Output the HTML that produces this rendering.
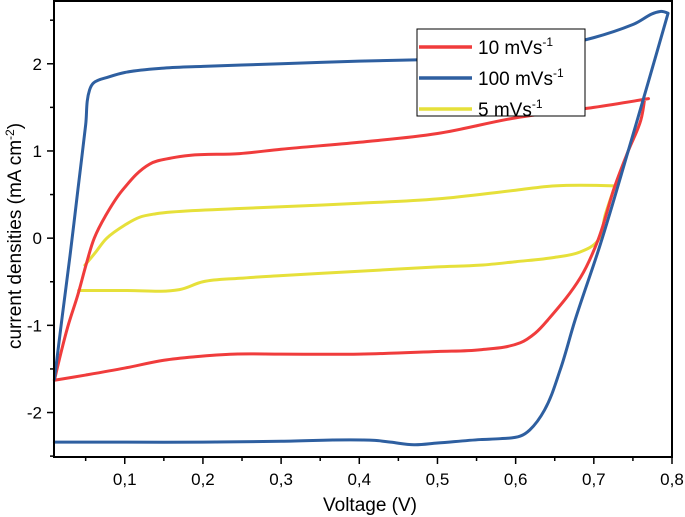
<!DOCTYPE html>
<html><head><meta charset="utf-8"><style>
body{margin:0;background:#fff}
svg{display:block;font-family:"Liberation Sans",Arial,sans-serif}
</style></head><body>
<svg id="chart" width="685" height="517">
<g id="plot"></g>
</svg>
<script>
const xTicks=[0.1,0.2,0.3,0.4,0.5,0.6,0.7,0.8];
const xTickLabels=["0,1","0,2","0,3","0,4","0,5","0,6","0,7","0,8"];
const yTicks=[-2,-1,0,1,2];
const yTickLabels=["-2","-1","0","1","2"];
const seriesNames=["10 mVs","100 mVs","5 mVs"];
const blueV=[0.01,0.02,0.03,0.04,0.05,0.055,0.06,0.08,0.1,0.15,0.2,0.3,0.4,0.5,0.55,0.62,0.7,0.75,0.785,0.795,0.77,0.744,0.708,0.676,0.657,0.637,0.618,0.606,0.58,0.555,0.5,0.47,0.44,0.42,0.3,0.2,0.1,0.01];
const blueI=[-1.62,-0.9,-0.2,0.55,1.3,1.7,1.78,1.85,1.9,1.95,1.97,2.0,2.03,2.05,2.06,2.15,2.3,2.45,2.6,2.58,1.8,1.0,-0.08,-0.94,-1.51,-1.97,-2.2,-2.27,-2.3,-2.31,-2.35,-2.37,-2.34,-2.32,-2.33,-2.34,-2.34,-2.34];
const redV=[0.77,0.7,0.6,0.5,0.4,0.3,0.247,0.183,0.16,0.132,0.097,0.075,0.061,0.051,0.04,0.027,0.01,0.05,0.1,0.15,0.19,0.24,0.3,0.4,0.5,0.555,0.606,0.625,0.641,0.683,0.705,0.727,0.744,0.76,0.765];
const redI=[1.6,1.5,1.38,1.2,1.1,1.02,0.97,0.95,0.92,0.85,0.55,0.25,0.0,-0.29,-0.65,-1.02,-1.63,-1.57,-1.49,-1.4,-1.36,-1.33,-1.33,-1.33,-1.3,-1.28,-1.2,-1.09,-0.94,-0.45,-0.03,0.6,1.0,1.35,1.6];
const yelV=[0.049,0.062,0.077,0.1,0.119,0.14,0.16,0.247,0.3,0.4,0.5,0.6,0.65,0.727,0.715,0.705,0.682,0.65,0.6,0.555,0.5,0.4,0.3,0.247,0.2,0.17,0.1,0.041];
const yelI=[-0.31,-0.17,0.0,0.15,0.24,0.28,0.3,0.34,0.36,0.4,0.45,0.55,0.6,0.6,0.28,-0.03,-0.16,-0.22,-0.27,-0.31,-0.33,-0.38,-0.43,-0.46,-0.5,-0.59,-0.6,-0.6];
const X0=54,X1=672,Y0=1,Y1=457,xmin=0.0095,xmax=0.8,ymin=-2.51,ymax=2.72;
const sx=v=>X0+(v-xmin)/(xmax-xmin)*(X1-X0);
const sy=v=>Y1-(v-ymin)/(ymax-ymin)*(Y1-Y0);
const NS="http://www.w3.org/2000/svg";
const plot=document.getElementById('plot');
function mk(t,a,p){const e=document.createElementNS(NS,t);for(const k in a)e.setAttribute(k,a[k]);(p||plot).appendChild(e);return e;}
function smooth(P){
 const n=P.length,T=[];
 for(let i=0;i<n;i++){
  if(i==0||i==n-1){T.push([0,0]);continue;}
  const a=[P[i][0]-P[i-1][0],P[i][1]-P[i-1][1]],b=[P[i+1][0]-P[i][0],P[i+1][1]-P[i][1]];
  const la=Math.hypot(...a)||1,lb=Math.hypot(...b)||1;
  const cos=(a[0]*b[0]+a[1]*b[1])/(la*lb);
  if(cos<0.5){T.push([0,0]);continue;}
  let d=[a[0]/la+b[0]/lb,a[1]/la+b[1]/lb];const ld=Math.hypot(...d)||1;T.push([d[0]/ld,d[1]/ld]);
 }
 let s='M'+P[0][0]+','+P[0][1];
 for(let i=0;i<n-1;i++){const L=Math.hypot(P[i+1][0]-P[i][0],P[i+1][1]-P[i][1])*0.35;
  s+=' C'+(P[i][0]+T[i][0]*L)+','+(P[i][1]+T[i][1]*L)+' '+(P[i+1][0]-T[i+1][0]*L)+','+(P[i+1][1]-T[i+1][1]*L)+' '+P[i+1][0]+','+P[i+1][1];}
 return s;}
function line(V,I,c,name){
 const P=V.map((v,i)=>[sx(v),sy(I[i])]);
 const e=mk('path',{d:smooth(P),fill:'none',stroke:c,'stroke-width':3,'stroke-linejoin':'round','stroke-linecap':'round'});
 
 
}
line(yelV,yelI,'#e6e03a','series-5mvs');
line(redV,redI,'#f03c3c','series-10mvs');
line(blueV,blueI,'#2e5fa0','series-100mvs');
const fr=mk('rect',{x:X0,y:Y0,width:X1-X0,height:Y1-Y0,fill:'none',stroke:'#000','stroke-width':2});


for(let v=0.05;v<=0.801;v+=0.05){const x=sx(v);const major=Math.abs(v*10-Math.round(v*10))<0.01;
 mk('line',{x1:x,x2:x,y1:Y1,y2:Y1+(major?7:4),stroke:'#000','stroke-width':1.5});}
xTicks.forEach((v,i)=>{const t=mk('text',{x:sx(v),y:Y1+28,'text-anchor':'middle','font-size':17});t.textContent=xTickLabels[i];
 
 });
for(let v=-2.5;v<=2.51;v+=0.5){const y=sy(v);if(y<Y0||y>Y1)continue;const major=Math.abs(v-Math.round(v))<0.01;
 mk('line',{x1:X0,x2:X0-(major?7:4),y1:y,y2:y,stroke:'#000','stroke-width':1.5});}
yTicks.forEach((v,i)=>{const t=mk('text',{x:X0-12,y:sy(v)+6,'text-anchor':'end','font-size':17});t.textContent=yTickLabels[i];
 
 });
const xt=mk('text',{x:370,y:511,'text-anchor':'middle','font-size':19});xt.textContent='Voltage (V)';


const yt=mk('text',{transform:'translate(21,236) rotate(-90)','text-anchor':'middle','font-size':19});
yt.innerHTML='current densities (mA cm<tspan dy="-7" font-size="12">-2</tspan><tspan dy="7">)</tspan>';


const lg=mk('g',{});


mk('rect',{x:417,y:29,width:168,height:87,fill:'#fff',stroke:'#000','stroke-width':1},lg);
const cols=['#f03c3c','#2e5fa0','#e6e03a'];
seriesNames.forEach((n,i)=>{const y=47+i*31;
 mk('line',{x1:419,x2:472,y1:y,y2:y,stroke:cols[i],'stroke-width':3.5},lg);
 const t=mk('text',{x:478,y:y+7,'font-size':19},lg);t.innerHTML=n+'<tspan dy="-8" font-size="12">-1</tspan>';
 
 });
</script>
</body></html>
